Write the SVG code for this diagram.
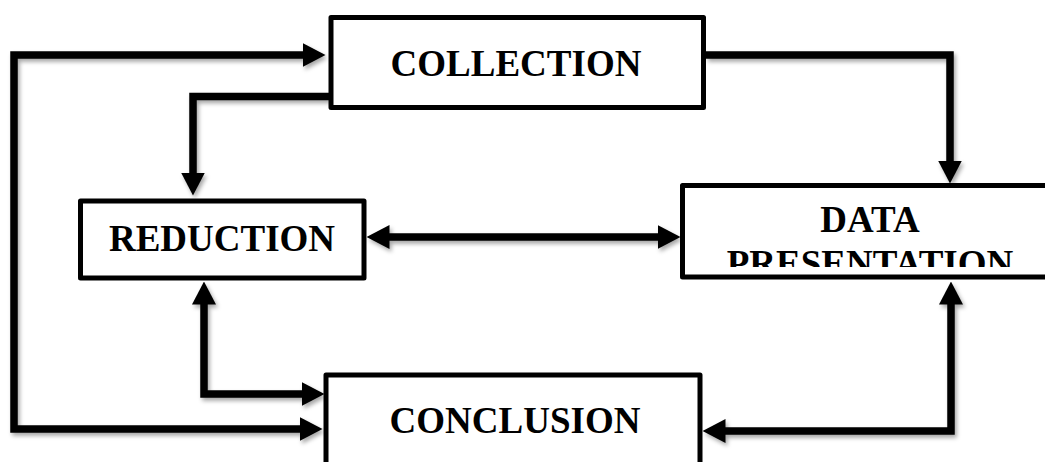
<svg xmlns="http://www.w3.org/2000/svg" width="1045" height="462" viewBox="0 0 1045 462">
<style>
.box{fill:#fff;stroke:#000;stroke-width:5;stroke-linejoin:round}
.lbl{font-family:"Liberation Serif","Times New Roman",serif;font-weight:bold;font-size:37px;fill:#000;text-anchor:middle}
.con{fill:none;stroke:#000;stroke-width:7.5;stroke-linejoin:miter;filter:url(#sh)}
.one{marker-end:url(#ah)}
.two{marker-start:url(#ah);marker-end:url(#ah)}
</style>
<defs>
<filter id="sh" filterUnits="userSpaceOnUse" x="0" y="0" width="1045" height="462">
<feDropShadow dx="2" dy="3" stdDeviation="2" flood-color="#000" flood-opacity="0.35"/>
</filter>
<marker id="ah" viewBox="0 0 23 24" refX="0.5" refY="12" markerWidth="23" markerHeight="24" markerUnits="userSpaceOnUse" orient="auto-start-reverse">
<path d="M0,0 L23,12 L0,24 Z" fill="#000"/>
</marker>
<clipPath id="dpclip"><rect x="685" y="188" width="360" height="79"/></clipPath>
</defs>
<g id="connectors">
<path class="con two" d="M303,55 L14,55 L14,429 L300,429"/>
<path class="con one" d="M329,96.5 L193,96.5 L193,173"/>
<path class="con one" d="M706,55 L950,55 L950,161"/>
<path class="con two" d="M389,237 L658,237"/>
<path class="con two" d="M204,304 L204,394 L302,394"/>
<path class="con two" d="M951,304 L951,431 L725,431"/>
</g>
<g id="collection">
<rect class="box" x="331" y="17.5" width="372.5" height="90"/>
<text class="lbl" x="516" y="76">COLLECTION</text>
</g>
<g id="reduction">
<rect class="box" x="80.5" y="201" width="283.5" height="77"/>
<text class="lbl" x="222" y="251">REDUCTION</text>
</g>
<g id="data-presentation">
<rect class="box" x="682.5" y="185.5" width="400" height="91.5"/>
<g clip-path="url(#dpclip)">
<text class="lbl" x="870" y="232">DATA</text>
<text class="lbl" x="870" y="276">PRESENTATION</text>
</g>
</g>
<g id="conclusion">
<rect class="box" x="326" y="375" width="374" height="120"/>
<text class="lbl" x="515" y="433">CONCLUSION</text>
</g>
</svg>
